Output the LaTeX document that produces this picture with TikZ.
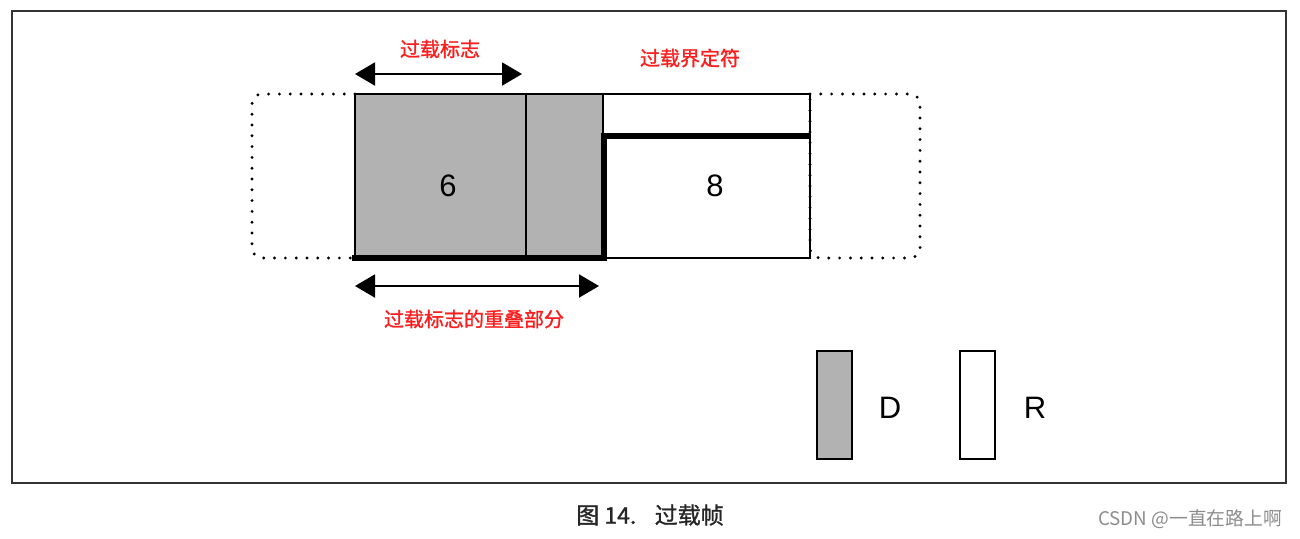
\documentclass[tikz,border=0pt]{standalone}
\usepackage{fontspec}
\setmainfont{Liberation Sans}
\newfontfamily\cjk[AutoFakeBold=1.2]{Noto Sans CJK SC}
\usetikzlibrary{arrows.meta}
\definecolor{fieldgray}{RGB}{178,178,178}
\definecolor{lblred}{RGB}{250,30,30}

\begin{document}
\begin{tikzpicture}[x=0.5pt,y=-0.5pt,
    redlbl/.style={text=lblred, font=\cjk\bfseries\fontsize{10}{12}\selectfont},
    spanarrow/.style={{Triangle[length=10pt,width=11.5pt]}-{Triangle[length=10pt,width=11.5pt]}, line width=1pt},
    dots/.style={line width=1.6pt, dash pattern=on 0pt off 5.4pt, line cap=round, rounded corners=5pt},
    bigdigit/.style={font=\fontsize{15.5}{18}\selectfont}]
	  \useasboundingbox (0,0) rectangle (1300,538);
	  \draw [line width=1pt, black!80] (12,11) rectangle (1286,483);
	  % fields of the frame
	  \draw [dots] (355,94) -- (252,94) -- (252,258) -- (355,258);
	  \draw [line width=0.8pt, fill=fieldgray] (355,94) rectangle (526,258);
	  \draw [line width=0.8pt, fill=fieldgray] (526,94) rectangle (603,258);
	  \draw [line width=0.8pt] (603,94) rectangle (810,258);
	  \draw [dots] (810,94) -- (920,94) -- (920,258) -- (810,258) -- (810,94);
	  \draw [line width=2.6pt] (352,258) -- (604,258) -- (604,136) -- (810,136);
	  \node [bigdigit] (six) at (448,186) {6};
	  \node [bigdigit] (eight) at (715,186) {8};
	  % spans
	  \coordinate (flagL) at (355,74);
	  \coordinate (flagR) at (522,74);
	  \draw [spanarrow] (flagL) -- (flagR);
	  \node [redlbl] (flag) at (440,49) {过载标志};
	  \node [redlbl] (delim) at (690,58) {过载界定符};
	  \coordinate (overL) at (355,286);
	  \coordinate (overR) at (599,286);
	  \draw [spanarrow] (overL) -- (overR);
	  \node [redlbl] (over) at (474,319) {过载标志的重叠部分};
	  % legend
	  \draw [line width=0.8pt, fill=fieldgray] (817,351) rectangle (852,459);
	  \node [bigdigit] (dkey) at (890,408) {D};
	  \draw [line width=0.8pt] (960,351) rectangle (995,459);
	  \node [bigdigit] (rkey) at (1035,408) {R};
	  % caption
	  \node [font=\cjk\bfseries\fontsize{11.5}{14}\selectfont, black!85] (cap) at (650,515) {图 14.\hspace{0.8em}过载帧};
	  \node [font=\cjk\fontsize{9.4}{11}\selectfont, black!45] (mark) at (1190,519) {CSDN @一直在路上啊};
	 \end{tikzpicture}
\end{document}
